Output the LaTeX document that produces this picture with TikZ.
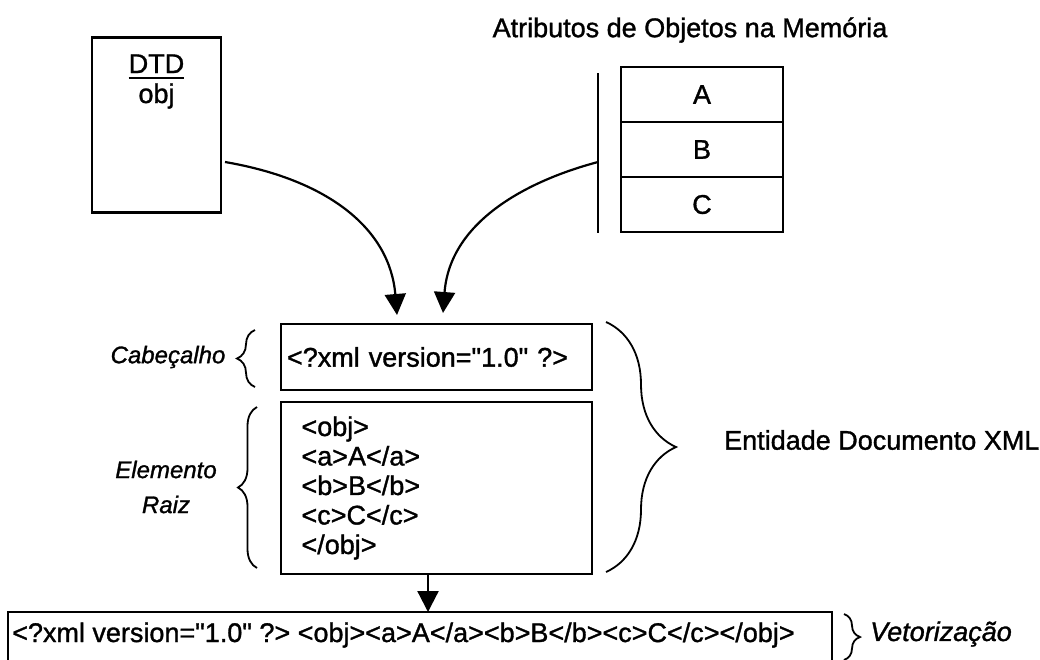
\documentclass[tikz,border=0pt]{standalone}
\usepackage{fontspec}
\setmainfont{Liberation Sans}[Ligatures=TeXOff, FakeBold=1.2]
\usetikzlibrary{positioning,arrows.meta,decorations.pathreplacing}

\tikzset{
  txt/.style={font=\fontsize{27}{29.5}\selectfont, inner sep=0pt},
  itxt/.style={font=\fontsize{24}{35}\selectfont\itshape, inner sep=0pt},
  box/.style={draw, line width=2.2pt, rectangle, inner sep=0pt, outer sep=0pt},
  cell/.style={box, txt, minimum width=162pt, minimum height=55pt},
  arr/.style={line width=2.2pt, -{Triangle[length=21pt,width=21pt]}},
  brc/.style={line width=1.8pt, decorate, decoration={brace, amplitude=#1}},
}

\begin{document}
\begin{tikzpicture}[x=1pt,y=-1pt]
  \useasboundingbox (0,0) rectangle (1040,659);

  % DTD
  \node[box, minimum width=129pt, minimum height=175pt] (dtd) at (156.5,125) {};
  \node[txt, anchor=base] (dtdname) at (156.5,73) {DTD};
  \draw[line width=2.2pt] ([yshift=-5pt]dtdname.base west) -- ([yshift=-5pt]dtdname.base east);
  \node[txt, anchor=base] (dtdobj) at (156.5,103) {obj};

  % Atributos
  \node[txt] (title) at (690,30) {Atributos de Objetos na Mem\'oria};
  \node[cell] (atra) at (702,94.5) {A};
  \node[cell, below=0pt of atra] (atrb) {B};
  \node[cell, below=0pt of atrb] (atrc) {C};
  %
  \coordinate (bartop) at (598,73);
  \coordinate (barbot) at (598,233);
  \coordinate (barmid) at (598,162);
  \draw[line width=2.2pt] (bartop) -- (barbot);

  % Documento XML
  \node[box, txt, minimum width=311pt, minimum height=66pt, text width=299pt,
        align=left, inner xsep=6pt] (header) at (436.5,357) {<?xml version="1.0" ?>};
  \node[box, txt, minimum width=311pt, minimum height=172pt, text width=270pt,
        align=left, inner xsep=20.5pt] (rootel) at (436.5,488)
        {<obj>\\<a>A</a>\\<b>B</b>\\<c>C</c>\\</obj>};

  %% Arrows
  \coordinate (tipa) at ([xshift=-39.5pt,yshift=9pt]header.north);
  \coordinate (tipb) at ([xshift=6.5pt,yshift=11pt]header.north);
  \draw[arr] ([xshift=4pt,yshift=-37pt]dtd.east) .. controls +(105,18) and +(-7,-85) .. (tipa);
  \draw[arr] (barmid) .. controls +(-68,18) and +(7,-93) .. (tipb);

  % Braces
  \draw[brc=18] ([xshift=-26pt,yshift=3pt]header.south west) -- ([xshift=-26pt,yshift=-6pt]header.north west);
  \draw[brc=19] ([xshift=-24pt,yshift=6pt]rootel.south west) -- ([xshift=-24pt,yshift=-5pt]rootel.north west);
  \draw[brc=70] ([xshift=14pt,yshift=2pt]header.north east) -- ([xshift=14pt,yshift=2pt]rootel.south east);
  \node[itxt] (cab) at (168,357) {Cabe\c{c}alho};
  \node[itxt, align=center] (raiz) at (166,487) {Elemento\\Raiz};
  \node[txt, anchor=west] (entidade) at (724,440) {Entidade Documento XML};

  % Vetorizacao
  \node[box, minimum width=824pt, minimum height=60pt] (vecbox) at (420,642) {};
  \node[txt, anchor=base west] (vectext) at ([xshift=4pt,yshift=-30pt]vecbox.north west)
        {<?xml version="1.0" ?> <obj><a>A</a><b>B</b><c>C</c></obj>};
  \draw[arr] ([xshift=-8.5pt]rootel.south) -- ([xshift=-8.5pt]rootel.south |- vecbox.north);
  \draw[brc=16] ([xshift=12pt,yshift=-2pt]vecbox.north east) -- ++(0,46);
  \node[itxt, font=\fontsize{27}{35}\selectfont\itshape, anchor=west] (vetor) at (870,634) {Vetoriza\c{c}\~ao};
\end{tikzpicture}
\end{document}
